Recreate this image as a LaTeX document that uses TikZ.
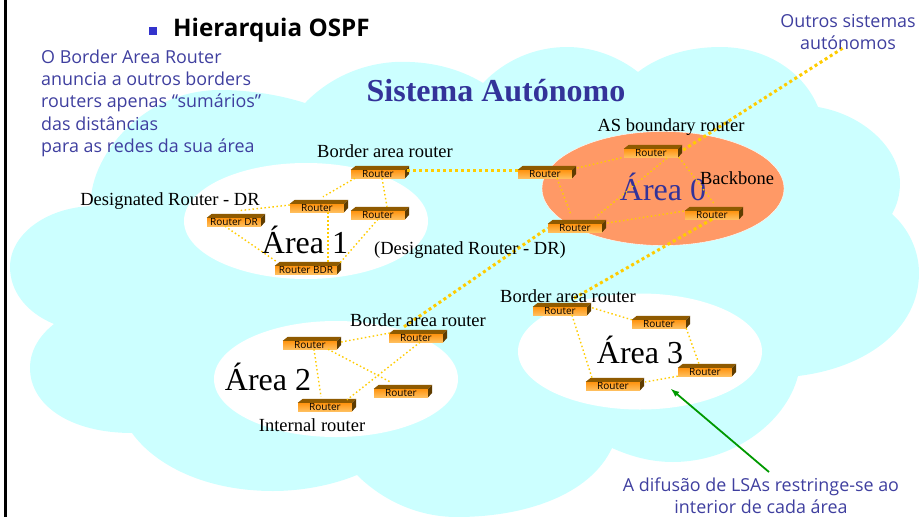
\documentclass[tikz,border=0pt]{standalone}
\usepackage{fontspec}
\setmainfont{Liberation Serif}
\setsansfont{Open Sans}
\usetikzlibrary{shapes.geometric}
\definecolor{cloudcyan}{HTML}{CCFFFF}
\definecolor{slateblue}{HTML}{3F3F9F}
\definecolor{titleblue}{HTML}{333399}
\definecolor{linkgold}{HTML}{FFCC00}
\definecolor{areaorange}{HTML}{FF9966}
\definecolor{routertop}{HTML}{8F5A00}
\definecolor{routerside}{HTML}{5F3C00}
\definecolor{routerhigh}{HTML}{FF9410}
\definecolor{routerlow}{HTML}{FFBE5C}
\definecolor{bulletblue}{HTML}{3333CC}
\definecolor{arrowgreen}{HTML}{009900}
\tikzset{
  router/.style={rectangle, inner sep=0pt, minimum width=54pt, minimum height=8pt,
    top color=routerhigh, bottom color=routerlow,
    font=\sffamily\fontsize{10}{10}\selectfont},
  areablob/.style={ellipse, inner sep=0pt, minimum width=244pt, minimum height=116pt, fill=white},
  arealabel/.style={anchor=base, inner sep=0pt, font=\fontsize{32}{32}\selectfont},
  seriflabel/.style={font=\fontsize{18.5}{20}\selectfont, inner sep=0pt},
  bluetext/.style={text=slateblue, font=\sffamily\fontsize{17.9}{22.3}\selectfont, inner sep=0pt},
  linkthin/.style={linkgold, line width=1.4pt, dash pattern=on 1.5pt off 2.5pt},
  linkthick/.style={linkgold, line width=3pt, dash pattern=on 3pt off 3pt},
}
\begin{document}
\begin{tikzpicture}[x=1pt,y=-1pt]
  \useasboundingbox (0,0) rectangle (919,517);
  % cloud
  \fill[cloudcyan] (305,103) .. controls (335,72) and (375,60) .. (410,62)
    .. controls (440,63) and (465,72) .. (483,83)
    .. controls (505,60) and (535,47) .. (567,47)
    .. controls (595,47) and (620,58) .. (638,72)
    .. controls (660,55) and (690,47) .. (720,47)
    .. controls (770,47) and (805,75) .. (818,107)
    .. controls (865,115) and (900,150) .. (900,183)
    .. controls (900,195) and (897,205) .. (892,214)
    .. controls (908,228) and (919,250) .. (919,273)
    .. controls (919,330) and (865,368) .. (798,376)
    .. controls (785,425) and (730,462) .. (673,462)
    .. controls (650,462) and (630,456) .. (612,448)
    .. controls (590,495) and (525,517) .. (457,517)
    .. controls (415,517) and (380,498) .. (357,475)
    .. controls (330,486) and (300,491) .. (273,491)
    .. controls (205,491) and (155,465) .. (132,433)
    .. controls (70,433) and (30,405) .. (30,368)
    .. controls (30,350) and (40,335) .. (54,324)
    .. controls (25,312) and (10,290) .. (10,267)
    .. controls (10,235) and (45,208) .. (91,206)
    .. controls (88,160) and (140,90) .. (220,90)
    .. controls (250,90) and (280,95) .. (305,103) -- cycle;
  \draw[line width=3pt] (5.3,0) -- (5.3,517);
  % areas
  \node (area1) at (306,221) [areablob] {};
  \node (area0) at (663,188.5) [areablob, fill=areaorange, draw=white, minimum width=242pt, minimum height=114pt] {};
  \node (area2) at (336,379) [areablob] {};
  \node (area3) at (640,351.5) [areablob] {};
  \node (label1) at (305,253) [arealabel] {Área 1};
  \node (label0) at (663,200) [arealabel, text=titleblue] {Área 0};
  \node (label2) at (268,390) [arealabel] {Área 2};
  \node (label3) at (640,363) [arealabel] {Área 3};
  % routers
  \node (a1top) at (378,174) [router] {Router};
  \node (a1mid) [left of=a1top, node distance=61pt, yshift=-34pt, router] {Router};
  \node (a1right) [below of=a1top, node distance=41pt, router] {Router};
  \node (a1dr) [left of=a1mid, node distance=83pt, yshift=-14pt, router] {Router DR};
  \node (a1bdr) [below of=a1mid, node distance=62pt, xshift=-11pt, router, minimum width=62pt] {Router BDR};
  \node (a0left) at (545,174) [router] {Router};
  \node (a0top) [right of=a0left, node distance=106pt, yshift=21pt, router] {Router};
  \node (a0low) [right of=a0left, node distance=30pt, yshift=-54pt, router] {Router};
  \node (a0right) [right of=a0low, node distance=137pt, yshift=13pt, router] {Router};
  \node (a2left) at (310,345) [router] {Router};
  \node (a2border) [right of=a2left, node distance=106pt, yshift=7pt, router] {Router};
  \node (a2right) [below of=a2border, node distance=55pt, xshift=-15pt, router] {Router};
  \node (a2bottom) [below of=a2left, node distance=62pt, xshift=15pt, router] {Router};
  \node (a3border) at (560,311) [router] {Router};
  \node (a3top) [right of=a3border, node distance=99pt, yshift=-13pt, router] {Router};
  \node (a3right) [below of=a3top, node distance=48pt, xshift=46pt, router] {Router};
  \node (a3bottom) [below of=a3border, node distance=75pt, xshift=53pt, router] {Router};
  \foreach \r in {a1top,a1mid,a1right,a1dr,a1bdr,a0left,a0top,a0low,a0right,a2left,a2border,a2right,a2bottom,a3border,a3top,a3right,a3bottom} {
    \fill[routertop] (\r.north west) -- ++(5,-4) -- ([xshift=4pt,yshift=4pt]\r.north east) -- (\r.north east) -- cycle;
    \fill[routerside] (\r.north east) -- ++(4,-4) -- ++(0,8) -- (\r.south east) -- cycle;
  }
  % links
  \coordinate (others) at (843,48);
  \path[linkthin] ([xshift=-23pt]a1top.south) edge ([xshift=6pt,yshift=7pt]a1mid.north)
            ([xshift=4pt]a1top.south) edge ([xshift=9pt,yshift=4pt]a1right.north)
            ([yshift=3pt]a1mid.west) edge ([xshift=4pt,yshift=7pt]a1dr.north)
            ([xshift=11pt]a1mid.south) edge ([xshift=22pt,yshift=3pt]a1bdr.north)
            (a1right.south) edge ([xshift=34pt,yshift=3pt]a1bdr.north)
            ([xshift=-9pt]a1dr.south) edge ([xshift=2pt,yshift=4pt]a1bdr.north west)
            ([xshift=5pt,yshift=6pt]a0left.east) edge (a0top.south west)
            ([xshift=12pt]a0left.south) edge ([xshift=-4pt,yshift=9pt]a0low.north)
            ([xshift=5pt,yshift=5pt]a0low.east) edge ([yshift=4pt]a0right.west)
            ([xshift=20pt,yshift=6pt]a0low.north) edge ([xshift=17pt]a0top.south)
            ([xshift=28pt]a0top.south) edge ([xshift=3pt,yshift=6pt]a0right.north)
            ([xshift=4pt,yshift=3pt]a2left.east) edge ([xshift=1pt,yshift=5pt]a2border.west)
            ([xshift=18pt]a2left.south) edge ([xshift=-11pt,yshift=7pt]a2right.north)
            ([xshift=4pt]a2left.south) edge ([xshift=-4pt,yshift=6pt]a2bottom.north)
            ([xshift=4pt]a2border.south) edge ([xshift=22pt,yshift=3pt]a2bottom.north)
            ([xshift=5pt,yshift=-1pt]a3border.north east) edge (a3top.north west)
            ([xshift=12pt]a3border.south) edge ([xshift=-21pt,yshift=4pt]a3bottom.north)
            (a3top.south east) edge ([xshift=-6pt,yshift=4pt]a3right.north)
            (a3right.south west) edge ([xshift=5pt,yshift=4pt]a3bottom.east)
            ;
  \path[linkthick] ([xshift=2pt,yshift=4pt]a1top.east) edge ([yshift=4pt]a0left.west)
            ([xshift=5pt,yshift=3pt]a0top.east) edge (others)
            ([xshift=-12pt,yshift=7pt]a2border.north) edge (a0low.west)
            (a0right.south) edge ([xshift=13pt,yshift=8pt]a3border.north)
            ;
  % texts
  \node (bullet) at (153,30.5) [rectangle, fill=bulletblue, inner sep=0pt, minimum size=8pt] {};
  \node (title) at (173,36) [anchor=base west, inner sep=0pt, font=\sffamily\bfseries\fontsize{24.2}{26}\selectfont] {Hierarquia OSPF};
  \node (note) at (41,49.5) [bluetext, anchor=north west, align=left] {O Border Area Router\\anuncia a outros borders\\routers apenas “sumários”\\das distâncias\\para as redes da sua área};
  \node (system) at (496,91) [text=titleblue, font=\bfseries\fontsize{32}{34}\selectfont] {Sistema Autónomo};
  \node (border1) at (385,151) [seriflabel] {Border area router};
  \node (drname) at (170,201) [seriflabel] {Designated Router - DR};
  \node (drnote) at (470,250) [seriflabel] {(Designated Router - DR)};
  \node (asb) at (671,127) [seriflabel] {AS boundary router};
  \node (backbone) at (737,178) [seriflabel] {Backbone};
  \node (border2) at (418,320) [seriflabel] {Border area router};
  \node (border3) at (568,296) [seriflabel] {Border area router};
  \node (internal) at (312,425) [seriflabel] {Internal router};
  \node (outros) at (848,32) [bluetext, align=center] {Outros sistemas\\autónomos};
  \node (lsas) at (761,496) [bluetext, align=center] {A difusão de LSAs restringe-se ao\\interior de cada área};
  \coordinate (arrowstart) at (769,472);
  \coordinate (arrowend) at (671,389);
  \draw[-latex, arrowgreen, line width=1.8pt] (arrowstart) -- (arrowend);
\end{tikzpicture}
\end{document}
